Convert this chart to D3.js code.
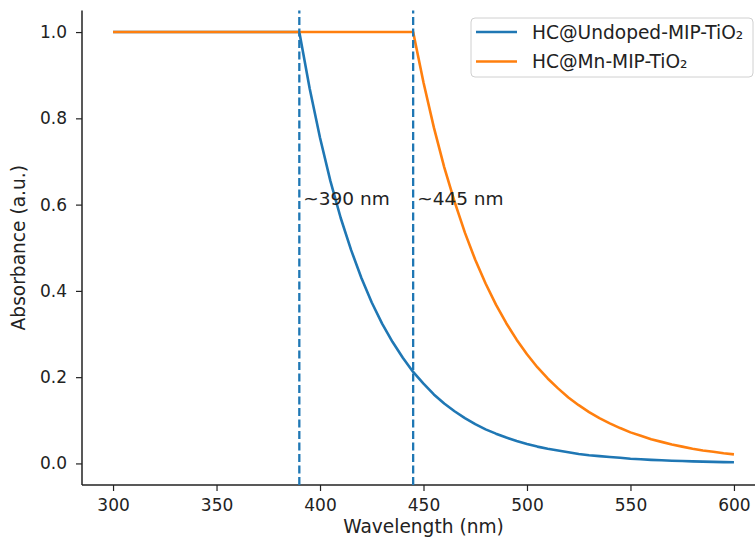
<!DOCTYPE html>
<html>
<head>
<meta charset="utf-8">
<script src="https://cdn.jsdelivr.net/npm/d3@7"></script>
<style>
  body { margin: 0; background: #fff; }
  text { font-family: "DejaVu Sans", sans-serif; fill: #222; }
</style>
</head>
<body>
<div id="chart"></div>
<script>
var svgWidth = 755
var svgHeight = 537

// wavelengths (nm), every 5 nm
var wavelengths = [300, 305, 310, 315, 320, 325, 330, 335, 340, 345, 350, 355, 360, 365, 370, 375, 380, 385,
    390, 395, 400, 405, 410, 415, 420, 425, 430, 435, 440, 445, 450, 455, 460, 465, 470, 475, 480, 485,
    490, 495, 500, 505, 510, 515, 520, 525, 530, 535, 540, 545, 550, 555, 560, 565, 570, 575, 580, 585,
    590, 595, 600]

// HC@Undoped-MIP-TiO2 absorbance
var undoped = [1, 1, 1, 1, 1, 1, 1, 1, 1, 1, 1, 1, 1, 1, 1, 1, 1, 1,
    1.0, 0.869, 0.755, 0.655, 0.569, 0.495, 0.430, 0.373, 0.324, 0.282, 0.245, 0.212, 0.185, 0.160, 0.139,
    0.121, 0.105, 0.091, 0.079, 0.069, 0.060, 0.052, 0.045, 0.039, 0.034, 0.030, 0.026, 0.022, 0.019,
    0.017, 0.015, 0.013, 0.011, 0.0096, 0.0083, 0.0072, 0.0063, 0.0055, 0.0047, 0.0041, 0.0036, 0.0031, 0.0027]

// HC@Mn-MIP-TiO2 absorbance
var mnDoped = [1, 1, 1, 1, 1, 1, 1, 1, 1, 1, 1, 1, 1, 1, 1, 1, 1, 1,
    1, 1, 1, 1, 1, 1, 1, 1, 1, 1, 1,
    1.0, 0.883, 0.779, 0.687, 0.607, 0.535, 0.472, 0.417, 0.368, 0.325, 0.287, 0.253, 0.223, 0.197,
    0.174, 0.153, 0.135, 0.119, 0.105, 0.093, 0.082, 0.072, 0.064, 0.056, 0.050, 0.044, 0.039, 0.034,
    0.030, 0.027, 0.0235, 0.021]

var seriesNames = ["HC@Undoped-MIP-TiO\u2082", "HC@Mn-MIP-TiO\u2082"]
var seriesColors = ["#1f77b4", "#ff7f0e"]

// band edges
var edges = [390, 445]
var edgeLabels = ["~390 nm", "~445 nm"]

var xTicks = [300, 350, 400, 450, 500, 550, 600]
var yTicks = [0.0, 0.2, 0.4, 0.6, 0.8, 1.0]

var svg = d3.select("#chart")
    .append("svg")
    .attr("width", svgWidth)
    .attr("height", svgHeight)

var xScale = d3.scaleLinear().domain([285, 615]).range([82, 765])
var yScale = d3.scaleLinear().domain([-0.05, 1.05]).range([485, 10.5])

// Axes
var xAxis = svg.append("g")
    .attr("transform", `translate(0, ${yScale(-0.05)})`)
    .call(d3.axisBottom(xScale).tickValues(xTicks).tickSize(6).tickPadding(8).tickFormat(d3.format("d")))
var yAxis = svg.append("g")
    .attr("transform", `translate(${xScale(285)}, 0)`)
    .call(d3.axisLeft(yScale).tickValues(yTicks).tickSize(6).tickPadding(9).tickFormat(d3.format(".1f")))

svg.selectAll(".domain").remove()
svg.selectAll(".tick line").attr("stroke", "#222").attr("stroke-width", 1.2)
svg.selectAll(".tick text").style("font-size", "17px").attr("fill", "#222")

// spines (left and bottom only)
svg.append("line")
    .attr("x1", xScale(285)).attr("x2", xScale(285))
    .attr("y1", yScale(-0.05)).attr("y2", yScale(1.05))
    .attr("stroke", "#222").attr("stroke-width", 1.5)
svg.append("line")
    .attr("x1", xScale(285)).attr("x2", xScale(615))
    .attr("y1", yScale(-0.05)).attr("y2", yScale(-0.05))
    .attr("stroke", "#222").attr("stroke-width", 1.5)

// Lines
var line = d3.line()
    .x((d, i) => xScale(wavelengths[i]))
    .y(d => yScale(d))

var allSeries = [undoped, mnDoped]
svg.selectAll(".series")
    .data(allSeries)
    .enter()
    .append("path")
    .attr("class", "series")
    .attr("d", d => line(d))
    .attr("fill", "none")
    .attr("stroke", (d, i) => seriesColors[i])
    .attr("stroke-width", 2.6)
    .attr("stroke-linejoin", "round")

// dashed edge markers
svg.selectAll(".edge")
    .data(edges)
    .enter()
    .append("line")
    .attr("class", "edge")
    .attr("x1", d => xScale(d)).attr("x2", d => xScale(d))
    .attr("y1", yScale(-0.05)).attr("y2", yScale(1.05))
    .attr("stroke", "#1f77b4")
    .attr("stroke-width", 2.3)
    .attr("stroke-dasharray", "8,3.5")

svg.selectAll(".edgeText")
    .data(edges)
    .enter()
    .append("text")
    .attr("class", "edgeText")
    .attr("x", d => xScale(d) + 4)
    .attr("y", yScale(0.6))
    .style("font-size", "18.5px")
    .text((d, i) => edgeLabels[i])

// Axis labels
svg.append("text")
    .attr("x", (xScale(285) + xScale(615)) / 2)
    .attr("y", 533)
    .attr("text-anchor", "middle")
    .style("font-size", "18.6px")
    .text("Wavelength (nm)")

svg.append("text")
    .attr("transform", `translate(25, ${(yScale(-0.05) + yScale(1.05)) / 2}) rotate(-90)`)
    .attr("text-anchor", "middle")
    .style("font-size", "18.6px")
    .text("Absorbance (a.u.)")

// Legend
var legend = svg.append("g").attr("transform", "translate(471, 18)")
legend.append("rect")
    .attr("width", 282).attr("height", 59)
    .attr("rx", 4)
    .attr("fill", "#fff").attr("fill-opacity", 0.8)
    .attr("stroke", "#d0d0d0")
var items = legend.selectAll(".item")
    .data(seriesNames)
    .enter()
    .append("g")
    .attr("transform", (d, i) => `translate(0, ${14 + i * 29.5})`)
items.append("line")
    .attr("x1", 5).attr("x2", 46)
    .attr("stroke", (d, i) => seriesColors[i])
    .attr("stroke-width", 2.6)
items.append("text")
    .attr("x", 61)
    .attr("y", 6.5)
    .style("font-size", "18.6px")
    .text(d => d)
</script>
</body>
</html>
